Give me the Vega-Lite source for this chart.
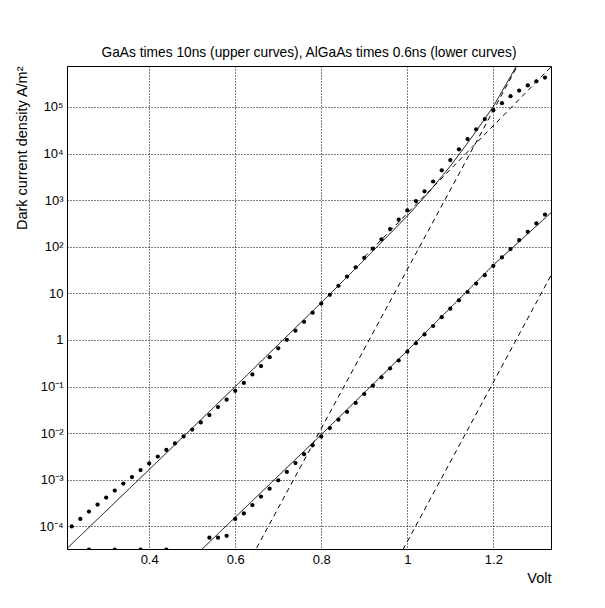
{
  "$schema": "https://vega.github.io/schema/vega-lite/v6.json",
  "autosize": "none",
  "width": 484,
  "height": 483,
  "padding": {"left": 67, "top": 66, "right": 54, "bottom": 59},
  "background": "white",
  "config": {
    "view": {"stroke": "black", "strokeWidth": 1},
    "font": "Liberation Sans"
  },
  "title": {
    "text": "GaAs times 10ns (upper curves), AlGaAs times 0.6ns (lower curves)",
    "fontSize": 13.75,
    "fontWeight": "normal",
    "font": "Liberation Sans",
    "color": "black",
    "frame": "group",
    "anchor": "middle",
    "offset": 6
  },
  "datasets": {
    "points": [
      {"V": 0.22, "J": 1.0e-4, "m": "GaAs"},
      {"V": 0.24, "J": 1.445e-4, "m": "GaAs"},
      {"V": 0.26, "J": 2.09e-4, "m": "GaAs"},
      {"V": 0.28, "J": 2.95e-4, "m": "GaAs"},
      {"V": 0.30, "J": 4.17e-4, "m": "GaAs"},
      {"V": 0.32, "J": 5.89e-4, "m": "GaAs"},
      {"V": 0.34, "J": 8.32e-4, "m": "GaAs"},
      {"V": 0.36, "J": 1.148e-3, "m": "GaAs"},
      {"V": 0.38, "J": 1.62e-3, "m": "GaAs"},
      {"V": 0.40, "J": 2.24e-3, "m": "GaAs"},
      {"V": 0.42, "J": 3.16e-3, "m": "GaAs"},
      {"V": 0.44, "J": 4.37e-3, "m": "GaAs"},
      {"V": 0.46, "J": 6.03e-3, "m": "GaAs"},
      {"V": 0.48, "J": 8.51e-3, "m": "GaAs"},
      {"V": 0.50, "J": 1.20e-2, "m": "GaAs"},
      {"V": 0.52, "J": 1.70e-2, "m": "GaAs"},
      {"V": 0.54, "J": 2.45e-2, "m": "GaAs"},
      {"V": 0.56, "J": 3.63e-2, "m": "GaAs"},
      {"V": 0.58, "J": 5.25e-2, "m": "GaAs"},
      {"V": 0.60, "J": 8.13e-2, "m": "GaAs"},
      {"V": 0.62, "J": 0.120, "m": "GaAs"},
      {"V": 0.64, "J": 0.182, "m": "GaAs"},
      {"V": 0.66, "J": 0.275, "m": "GaAs"},
      {"V": 0.68, "J": 0.427, "m": "GaAs"},
      {"V": 0.70, "J": 0.661, "m": "GaAs"},
      {"V": 0.72, "J": 1.01, "m": "GaAs"},
      {"V": 0.74, "J": 1.585, "m": "GaAs"},
      {"V": 0.76, "J": 2.45, "m": "GaAs"},
      {"V": 0.78, "J": 3.85, "m": "GaAs"},
      {"V": 0.80, "J": 6.03, "m": "GaAs"},
      {"V": 0.82, "J": 9.33, "m": "GaAs"},
      {"V": 0.84, "J": 14.5, "m": "GaAs"},
      {"V": 0.86, "J": 22.9, "m": "GaAs"},
      {"V": 0.88, "J": 36.3, "m": "GaAs"},
      {"V": 0.90, "J": 57.5, "m": "GaAs"},
      {"V": 0.92, "J": 91.2, "m": "GaAs"},
      {"V": 0.94, "J": 144.5, "m": "GaAs"},
      {"V": 0.96, "J": 240, "m": "GaAs"},
      {"V": 0.98, "J": 380, "m": "GaAs"},
      {"V": 1.00, "J": 603, "m": "GaAs"},
      {"V": 1.02, "J": 955, "m": "GaAs"},
      {"V": 1.04, "J": 1549, "m": "GaAs"},
      {"V": 1.06, "J": 2512, "m": "GaAs"},
      {"V": 1.08, "J": 4365, "m": "GaAs"},
      {"V": 1.10, "J": 7244, "m": "GaAs"},
      {"V": 1.12, "J": 12300, "m": "GaAs"},
      {"V": 1.14, "J": 20400, "m": "GaAs"},
      {"V": 1.16, "J": 33100, "m": "GaAs"},
      {"V": 1.18, "J": 55000, "m": "GaAs"},
      {"V": 1.20, "J": 85100, "m": "GaAs"},
      {"V": 1.22, "J": 120200, "m": "GaAs"},
      {"V": 1.24, "J": 169800, "m": "GaAs"},
      {"V": 1.26, "J": 223900, "m": "GaAs"},
      {"V": 1.28, "J": 288400, "m": "GaAs"},
      {"V": 1.30, "J": 354800, "m": "GaAs"},
      {"V": 1.32, "J": 426600, "m": "GaAs"},
      {"V": 0.26, "J": 3.2e-5, "m": "AlGaAs"},
      {"V": 0.32, "J": 3.2e-5, "m": "AlGaAs"},
      {"V": 0.38, "J": 3.2e-5, "m": "AlGaAs"},
      {"V": 0.44, "J": 3.2e-5, "m": "AlGaAs"},
      {"V": 0.54, "J": 5.75e-5, "m": "AlGaAs"},
      {"V": 0.56, "J": 5.75e-5, "m": "AlGaAs"},
      {"V": 0.58, "J": 6.31e-5, "m": "AlGaAs"},
      {"V": 0.60, "J": 1.445e-4, "m": "AlGaAs"},
      {"V": 0.62, "J": 1.905e-4, "m": "AlGaAs"},
      {"V": 0.64, "J": 2.88e-4, "m": "AlGaAs"},
      {"V": 0.66, "J": 4.37e-4, "m": "AlGaAs"},
      {"V": 0.68, "J": 6.46e-4, "m": "AlGaAs"},
      {"V": 0.70, "J": 9.77e-4, "m": "AlGaAs"},
      {"V": 0.72, "J": 1.48e-3, "m": "AlGaAs"},
      {"V": 0.74, "J": 2.29e-3, "m": "AlGaAs"},
      {"V": 0.76, "J": 3.55e-3, "m": "AlGaAs"},
      {"V": 0.78, "J": 5.50e-3, "m": "AlGaAs"},
      {"V": 0.80, "J": 8.51e-3, "m": "AlGaAs"},
      {"V": 0.82, "J": 1.29e-2, "m": "AlGaAs"},
      {"V": 0.84, "J": 1.95e-2, "m": "AlGaAs"},
      {"V": 0.86, "J": 2.88e-2, "m": "AlGaAs"},
      {"V": 0.88, "J": 4.47e-2, "m": "AlGaAs"},
      {"V": 0.90, "J": 6.92e-2, "m": "AlGaAs"},
      {"V": 0.92, "J": 0.105, "m": "AlGaAs"},
      {"V": 0.94, "J": 0.158, "m": "AlGaAs"},
      {"V": 0.96, "J": 0.245, "m": "AlGaAs"},
      {"V": 0.98, "J": 0.363, "m": "AlGaAs"},
      {"V": 1.00, "J": 0.562, "m": "AlGaAs"},
      {"V": 1.02, "J": 0.851, "m": "AlGaAs"},
      {"V": 1.04, "J": 1.318, "m": "AlGaAs"},
      {"V": 1.06, "J": 1.995, "m": "AlGaAs"},
      {"V": 1.08, "J": 3.09, "m": "AlGaAs"},
      {"V": 1.10, "J": 4.68, "m": "AlGaAs"},
      {"V": 1.12, "J": 7.08, "m": "AlGaAs"},
      {"V": 1.14, "J": 10.7, "m": "AlGaAs"},
      {"V": 1.16, "J": 16.2, "m": "AlGaAs"},
      {"V": 1.18, "J": 24.5, "m": "AlGaAs"},
      {"V": 1.20, "J": 38.9, "m": "AlGaAs"},
      {"V": 1.22, "J": 58.9, "m": "AlGaAs"},
      {"V": 1.24, "J": 89.1, "m": "AlGaAs"},
      {"V": 1.26, "J": 138, "m": "AlGaAs"},
      {"V": 1.28, "J": 209, "m": "AlGaAs"},
      {"V": 1.30, "J": 316, "m": "AlGaAs"},
      {"V": 1.32, "J": 490, "m": "AlGaAs"}
    ],
    "lines": [
      {"V": 0.20, "J": 2.8e-5, "curve": "GaAs total", "style": "solid"},
      {"V": 0.40, "J": 1.66e-3, "curve": "GaAs total", "style": "solid"},
      {"V": 0.60, "J": 0.1, "curve": "GaAs total", "style": "solid"},
      {"V": 0.80, "J": 6.31, "curve": "GaAs total", "style": "solid"},
      {"V": 0.90, "J": 52.5, "curve": "GaAs total", "style": "solid"},
      {"V": 1.00, "J": 457, "curve": "GaAs total", "style": "solid"},
      {"V": 1.05, "J": 1479, "curve": "GaAs total", "style": "solid"},
      {"V": 1.10, "J": 5370, "curve": "GaAs total", "style": "solid"},
      {"V": 1.15, "J": 22400, "curve": "GaAs total", "style": "solid"},
      {"V": 1.20, "J": 102300, "curve": "GaAs total", "style": "solid"},
      {"V": 1.26, "J": 950000, "curve": "GaAs total", "style": "solid"},
      {"V": 0.62, "J": 1.07e-5, "curve": "GaAs steep", "style": "dashed"},
      {"V": 1.27, "J": 1.32e6, "curve": "GaAs steep", "style": "dashed"},
      {"V": 0.90, "J": 60, "curve": "GaAs shallow", "style": "dashed"},
      {"V": 1.34, "J": 820000, "curve": "GaAs shallow", "style": "dashed"},
      {"V": 0.50, "J": 2.04e-5, "curve": "AlGaAs total", "style": "solid"},
      {"V": 0.80, "J": 9.33e-3, "curve": "AlGaAs total", "style": "solid"},
      {"V": 1.00, "J": 0.589, "curve": "AlGaAs total", "style": "solid"},
      {"V": 1.20, "J": 40.7, "curve": "AlGaAs total", "style": "solid"},
      {"V": 1.34, "J": 603, "curve": "AlGaAs total", "style": "solid"},
      {"V": 0.96, "J": 9.8e-6, "curve": "AlGaAs steep", "style": "dashed"},
      {"V": 1.34, "J": 30.9, "curve": "AlGaAs steep", "style": "dashed"}
    ],
    "xmajor": [{"V": 0.4}, {"V": 0.6}, {"V": 0.8}, {"V": 1.0}, {"V": 1.2}],
    "xminor": [{"V": 0.25}, {"V": 0.3}, {"V": 0.35}, {"V": 0.45}, {"V": 0.5}, {"V": 0.55}, {"V": 0.65}, {"V": 0.7}, {"V": 0.75}, {"V": 0.85}, {"V": 0.9}, {"V": 0.95}, {"V": 1.05}, {"V": 1.1}, {"V": 1.15}, {"V": 1.25}, {"V": 1.3}],
    "ymajor": [{"J": 1e-4}, {"J": 1e-3}, {"J": 1e-2}, {"J": 0.1}, {"J": 1}, {"J": 10}, {"J": 100}, {"J": 1000}, {"J": 10000}, {"J": 100000}],
    "yminor": [{"J": 4e-5}, {"J": 5e-5}, {"J": 6e-5}, {"J": 7e-5}, {"J": 8e-5}, {"J": 9e-5}, {"J": 2e-4}, {"J": 3e-4}, {"J": 4e-4}, {"J": 5e-4}, {"J": 6e-4}, {"J": 7e-4}, {"J": 8e-4}, {"J": 9e-4}, {"J": 2e-3}, {"J": 3e-3}, {"J": 4e-3}, {"J": 5e-3}, {"J": 6e-3}, {"J": 7e-3}, {"J": 8e-3}, {"J": 9e-3}, {"J": 2e-2}, {"J": 3e-2}, {"J": 4e-2}, {"J": 5e-2}, {"J": 6e-2}, {"J": 7e-2}, {"J": 8e-2}, {"J": 9e-2}, {"J": 0.2}, {"J": 0.3}, {"J": 0.4}, {"J": 0.5}, {"J": 0.6}, {"J": 0.7}, {"J": 0.8}, {"J": 0.9}, {"J": 2}, {"J": 3}, {"J": 4}, {"J": 5}, {"J": 6}, {"J": 7}, {"J": 8}, {"J": 9}, {"J": 20}, {"J": 30}, {"J": 40}, {"J": 50}, {"J": 60}, {"J": 70}, {"J": 80}, {"J": 90}, {"J": 200}, {"J": 300}, {"J": 400}, {"J": 500}, {"J": 600}, {"J": 700}, {"J": 800}, {"J": 900}, {"J": 2000}, {"J": 3000}, {"J": 4000}, {"J": 5000}, {"J": 6000}, {"J": 7000}, {"J": 8000}, {"J": 9000}, {"J": 20000}, {"J": 30000}, {"J": 40000}, {"J": 50000}, {"J": 60000}, {"J": 70000}, {"J": 80000}, {"J": 90000}, {"J": 200000}, {"J": 300000}, {"J": 400000}, {"J": 500000}, {"J": 600000}, {"J": 700000}]
  },
  "encoding": {
    "x": {
      "field": "V",
      "type": "quantitative",
      "scale": {"domain": [0.209, 1.334], "nice": false, "zero": false},
      "axis": {
        "title": "Volt",
        "titleFont": "Liberation Sans",
        "titleFontSize": 14.5,
        "titleFontWeight": "normal",
        "titleColor": "black",
        "titleAnchor": "end",
        "titlePadding": 5,
        "values": [0.4, 0.6, 0.8, 1, 1.2],
        "labelExpr": "format(datum.value, '~g')",
        "labelFont": "Liberation Sans",
        "labelFontSize": 13,
        "labelColor": "black",
        "labelPadding": 4,
        "labelFlush": false,
        "labelOverlap": false,
        "domainColor": "black",
        "ticks": false,
        "grid": true,
        "gridColor": "black",
        "gridDash": [1, 2],
        "gridWidth": 1,
        "gridOpacity": 1
      }
    },
    "y": {
      "field": "J",
      "type": "quantitative",
      "scale": {"type": "log", "domain": [3.28e-5, 7.55e5], "nice": false},
      "axis": {
        "title": "Dark current density A/m²",
        "titleFont": "Liberation Sans",
        "titleFontSize": 14.5,
        "titleFontWeight": "normal",
        "titleColor": "black",
        "titleAnchor": "end",
        "titlePadding": 9,
        "values": [1e-4, 1e-3, 1e-2, 0.1, 1, 10, 100, 1000, 10000, 100000],
        "labelExpr": "datum.value == 100000 ? '10⁵' : datum.value == 10000 ? '10⁴' : datum.value == 1000 ? '10³' : datum.value == 100 ? '10²' : datum.value == 10 ? '10' : datum.value == 1 ? '1' : datum.value == 0.1 ? '10⁻¹' : datum.value == 0.01 ? '10⁻²' : datum.value == 0.001 ? '10⁻³' : datum.value == 0.0001 ? '10⁻⁴' : ''",
        "labelFont": "Liberation Sans",
        "labelFontSize": 13,
        "labelColor": "black",
        "labelPadding": 4,
        "labelFlush": false,
        "labelOverlap": false,
        "domainColor": "black",
        "ticks": false,
        "grid": true,
        "gridColor": "black",
        "gridDash": [1, 2],
        "gridWidth": 1,
        "gridOpacity": 1
      }
    }
  },
  "layer": [
    {
      "data": {"name": "lines"},
      "mark": {"type": "line", "clip": true, "color": "black", "strokeWidth": 1},
      "encoding": {
        "detail": {"field": "curve", "type": "nominal"},
        "strokeDash": {"field": "style", "type": "nominal", "scale": {"domain": ["solid", "dashed"], "range": [[1, 0], [5, 4]]}, "legend": null}
      }
    },
    {
      "data": {"name": "points"},
      "mark": {"type": "circle", "clip": true, "color": "black", "opacity": 1, "size": 18}
    },
    {
      "data": {"name": "xmajor"},
      "mark": {"type": "tick", "orient": "vertical", "clip": true, "color": "black", "opacity": 1, "size": 18, "thickness": 1},
      "encoding": {"x": {"field": "V", "type": "quantitative"}, "y": {"datum": 3.28e-5}}
    },
    {
      "data": {"name": "xminor"},
      "mark": {"type": "tick", "orient": "vertical", "clip": true, "color": "black", "opacity": 1, "size": 9, "thickness": 1},
      "encoding": {"x": {"field": "V", "type": "quantitative"}, "y": {"datum": 3.28e-5}}
    },
    {
      "data": {"name": "ymajor"},
      "mark": {"type": "tick", "orient": "horizontal", "clip": true, "color": "black", "opacity": 1, "size": 18, "thickness": 1},
      "encoding": {"y": {"field": "J", "type": "quantitative"}, "x": {"datum": 0.209}}
    },
    {
      "data": {"name": "yminor"},
      "mark": {"type": "tick", "orient": "horizontal", "clip": true, "color": "black", "opacity": 1, "size": 9, "thickness": 1},
      "encoding": {"y": {"field": "J", "type": "quantitative"}, "x": {"datum": 0.209}}
    }
  ]
}
